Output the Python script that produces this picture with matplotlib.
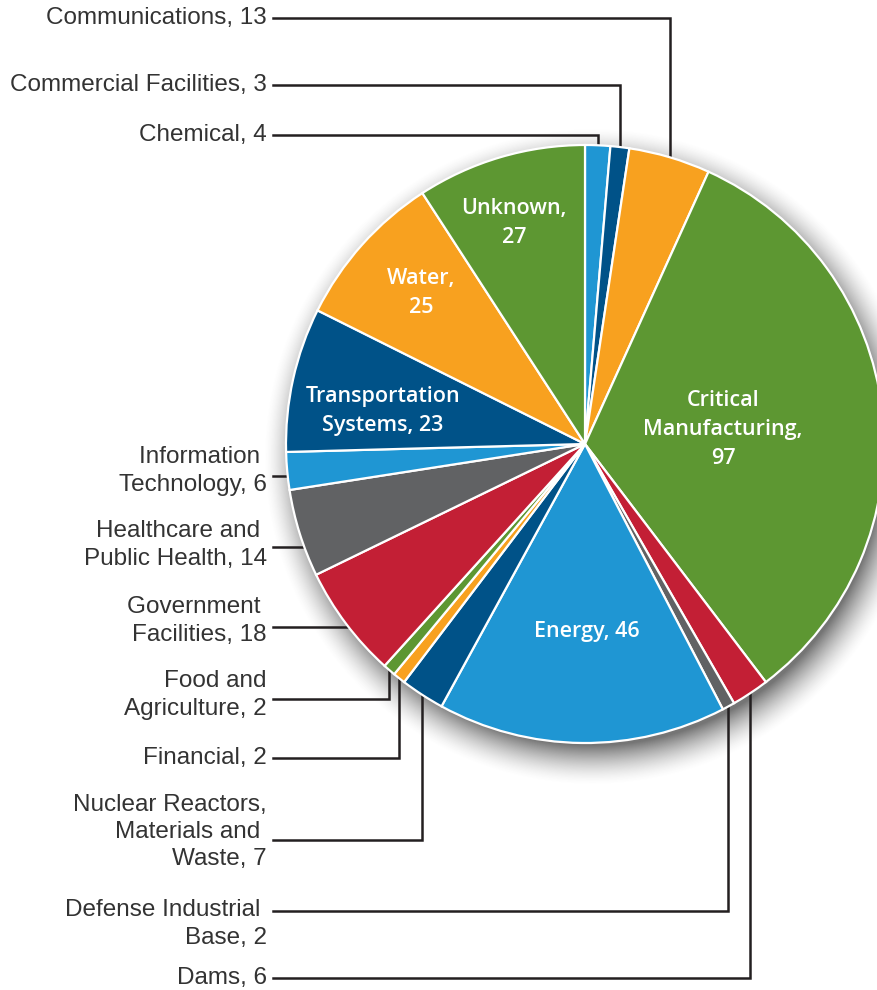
import numpy as np
import matplotlib.pyplot as plt

# sectors in the order they sit round the pie, clockwise from 12 o'clock
sectors = ["Chemical", "Commercial Facilities", "Communications",
           "Critical Manufacturing", "Dams", "Defense Industrial Base",
           "Energy", "Nuclear Reactors, Materials and Waste", "Financial",
           "Food and Agriculture", "Government Facilities",
           "Healthcare and Public Health", "Information Technology",
           "Transportation Systems", "Water", "Unknown"]
counts = [4, 3, 13, 97, 6, 2, 46, 7, 2, 2, 18, 14, 6, 23, 25, 27]

lblue, dblue, orange, green, red, grey = "#1f96d3", "#005288", "#f8a11f", "#5d9732", "#c31f35", "#616264"
colors = [lblue, dblue, orange, green, red, grey,
          lblue, dblue, orange, green, red, grey,
          lblue, dblue, orange, green]

# labels written inside the big slices
inside = {
    "Unknown": ("Unknown,\n27", 514, 223),
    "Water": ("Water,\n25", 421, 293),
    "Transportation Systems": ("Transportation\nSystems, 23", 383, 411),
    "Critical Manufacturing": ("Critical\nManufacturing,\n97", 723, 430),
    "Energy": ("Energy, 46", 587, 631),
}

# labels on the left with leader lines: text, text centre y, line y, route
outside = {
    "Communications": ("Communications, 13", 18, 18, "top"),
    "Commercial Facilities": ("Commercial Facilities, 3", 85, 85, "top"),
    "Chemical": ("Chemical, 4", 135, 135, "top"),
    "Information Technology": ("Information \nTechnology, 6", 471, 476, "left"),
    "Healthcare and Public Health": ("Healthcare and \nPublic Health, 14", 545, 547, "left"),
    "Government Facilities": ("Government \nFacilities, 18", 621, 627, "left"),
    "Food and Agriculture": ("Food and\nAgriculture, 2", 695, 699, "bottom"),
    "Financial": ("Financial, 2", 758, 758, "bottom"),
    "Nuclear Reactors, Materials and Waste": ("Nuclear Reactors,\nMaterials and \nWaste, 7", 832, 840, "bottom"),
    "Defense Industrial Base": ("Defense Industrial \nBase, 2", 924, 911, "bottom"),
    "Dams": ("Dams, 6", 978, 978, "bottom"),
}

cx, cy, r = 585, 444, 299

fig = plt.figure(figsize=(8.78, 9.9), dpi=100)
ax = fig.add_axes([0, 0, 1, 1])

# soft drop shadow
x0, x1, y0, y1 = 250, 900, 120, 800
gx, gy = np.meshgrid(np.arange(x0, x1), np.arange(y0, y1))
d = np.hypot(gx - (cx + 7), gy - (cy + 12))
a = np.clip(1 - (d - (r - 10)) / 40, 0, 1) ** 1.6 * 0.75
shadow = np.zeros(gx.shape + (4,))
shadow[..., :3] = 0.28
shadow[..., 3] = a
ax.imshow(shadow, extent=(x0, x1, y1, y0), origin="upper", zorder=0.5,
          interpolation="bilinear")

ax.pie(counts, colors=colors, radius=r, center=(cx, cy), startangle=-90,
       counterclock=True, frame=True,
       wedgeprops=dict(edgecolor="white", linewidth=1.6, zorder=2))

total = sum(counts)
cum = np.cumsum([0] + counts[:-1])
for name, v, c0 in zip(sectors, counts, cum):
    if name in inside:
        txt, tx, ty = inside[name]
        ax.text(tx, ty, txt, ha="center", va="center", color="white",
                fontsize=15.5, fontweight="semibold", family="Open Sans",
                linespacing=1.5, zorder=5)
        continue
    txt, ty, ly, route = outside[name]
    ax.text(267, ty, txt, ha="right", va="center", multialignment="right",
            color="#333333", fontsize=17.5, family="Liberation Sans",
            linespacing=1.32, zorder=5)
    ang = np.deg2rad(360 * (c0 + v / 2) / total)
    xm = cx + r * np.sin(ang)
    if route == "left":
        xe = cx - np.sqrt(r ** 2 - (ly - cy) ** 2)
        xs, ys = [273, xe], [ly, ly]
    else:
        h = np.sqrt(r ** 2 - (xm - cx) ** 2)
        ye = cy - h if route == "top" else cy + h
        xs, ys = [273, xm, xm], [ly, ly, ye]
    ax.plot(xs, ys, color="#231f20", lw=1.8, solid_joinstyle="miter", zorder=1)

ax.set_xlim(0, 878)
ax.set_ylim(990, 0)
ax.axis("off")
fig.savefig("out.png", dpi=100)
